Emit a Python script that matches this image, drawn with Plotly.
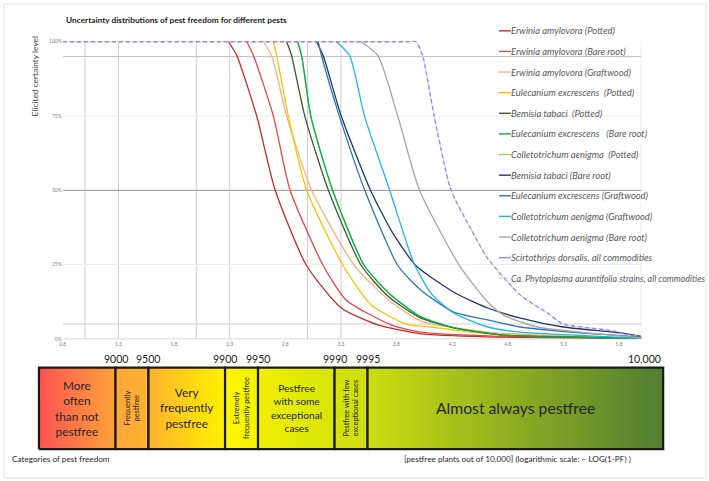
import plotly.graph_objects as go

W, H = 709, 481
FONT = "Lato"

# ---------------- data ----------------
x_tick_vals = [0.8, 1.3, 1.8, 2.3, 2.8, 3.3, 3.8, 4.3, 4.8, 5.3, 5.8]
x_tick_text = ["0.8", "1.3", "1.8", "2.3", "2.8", "3.3", "3.8", "4.3", "4.8", "5.3", "5.8"]
y_tick_vals = [0, 25, 50, 75, 100]
y_tick_text = ["0%", "25%", "50%", "75%", "100%"]

# vertical reference lines at category limits (-log10(1-PF))
category_limits = [1.0, 1.301, 2.0, 2.301, 3.0, 3.301]
# horizontal reference lines (certainty %)
h_levels = [95, 75, 50, 25, 5, 0]
h_colors = ["#BFBFBF", "#ECECEC", "#A6A6A6", "#ECECEC", "#D0D0D0", "#D9D9D9"]

series_names = [
    "Erwinia amylovora (Potted)",
    "Erwinia amylovora (Bare root)",
    "Erwinia amylovora (Graftwood)",
    "Eulecanium excrescens  (Potted)",
    "Bemisia tabaci  (Potted)",
    "Eulecanium excrescens   (Bare root)",
    "Colletotrichum aenigma  (Potted)",
    "Bemisia tabaci (Bare root)",
    "Eulecanium excrescens (Graftwood)",
    "Colletotrichum aenigma (Graftwood)",
    "Colletotrichum aenigma (Bare root)",
    "Scirtothrips dorsalis, all commodities",
    "Ca. Phytoplasma aurantifolia strains, all commodities",
]
series_colors = ["#C62828", "#E84545", "#F4B183", "#FFC000", "#3B5A2A", "#00B050",
                 "#92D050", "#1F3864", "#2E75B6", "#1FB4EC", "#A6A6A6", "#9F84E6", "#E2DAF6"]
series_dash = ["solid"] * 11 + ["4px,3px", "solid"]

ea_potted_x = [2.291, 2.365, 2.544, 2.708, 2.991, 3.304, 3.633, 4.02, 4.619, 6.0]
ea_potted_y = [100, 95.3, 74.9, 50.2, 24.7, 10.4, 4.7, 1.7, 0.7, 0.2]
ea_bare_x = [2.455, 2.515, 2.694, 2.842, 3.141, 3.349, 3.752, 4.02, 4.619, 6.0]
ea_bare_y = [100, 95.3, 74.9, 50.2, 24.7, 13.0, 4.7, 2.3, 1.0, 0.2]
ea_graft_x = [2.604, 2.678, 2.813, 3.036, 3.421, 3.75, 4.02, 4.619, 5.272, 6.0]
ea_graft_y = [100, 95.3, 74.9, 50.2, 24.7, 12.5, 6.0, 2.3, 1.0, 0.2]
ee_potted_x = [2.694, 2.723, 2.828, 2.991, 3.32, 3.573, 3.886, 4.109, 4.619, 6.0]
ee_potted_y = [100, 95.3, 74.9, 50.2, 24.7, 11.4, 5.0, 4.0, 1.7, 0.2]
bt_potted_x = [2.813, 2.857, 2.976, 3.186, 3.483, 3.734, 4.02, 4.315, 4.762, 5.362, 6.0]
bt_potted_y = [100, 95.3, 74.9, 50.2, 24.7, 14.0, 7.0, 3.7, 1.3, 0.7, 0.2]
ee_bare_x = [2.911, 2.947, 3.03, 3.224, 3.51, 3.752, 4.02, 4.315, 4.762, 6.0]
ee_bare_y = [100, 95.3, 74.9, 50.2, 24.7, 14.7, 7.4, 3.7, 1.3, 0.2]
ca_potted_x = [2.911, 2.947, 3.03, 3.224, 3.51, 3.752, 4.02, 4.315, 4.762, 6.0]
ca_potted_y = [100, 95.3, 74.9, 50.2, 24.7, 14.7, 7.4, 3.7, 1.3, 0.2]
bt_bare_x = [3.081, 3.141, 3.304, 3.564, 3.76, 3.973, 4.315, 4.619, 4.914, 5.299, 5.809, 6.0]
bt_bare_y = [100, 95.3, 74.9, 50.2, 36.0, 24.7, 15.7, 10.4, 7.0, 4.0, 2.0, 0.8]
ee_graft_x = [3.096, 3.126, 3.287, 3.513, 3.812, 4.02, 4.315, 4.619, 4.914, 5.362, 6.0]
ee_graft_y = [100, 95.3, 74.9, 50.2, 24.7, 16.4, 9.0, 6.4, 4.0, 2.3, 0.7]
ca_graft_x = [3.26, 3.379, 3.513, 3.737, 3.957, 4.109, 4.315, 4.619, 4.914, 6.0]
ca_graft_y = [100, 95.3, 74.9, 50.2, 25.4, 15.4, 8.7, 4.0, 2.3, 0.3]
ca_bare_x = [3.483, 3.633, 3.812, 4.005, 4.36, 4.619, 4.762, 5.067, 5.514, 6.0]
ca_bare_y = [100, 95.3, 74.9, 50.2, 25.0, 12.4, 8.0, 4.0, 2.0, 0.3]
sd_all_x = [0.8, 1.5, 2.2, 2.9, 3.5, 3.9, 3.975, 4.035, 4.139, 4.288, 4.467, 4.619, 4.914,
            5.156, 5.299, 5.693, 6.0]
sd_all_y = [100, 100, 100, 100, 100, 100, 100, 95.3, 74.9, 50.2, 37.1, 27.1, 14.7,
            8.7, 5.0, 3.0, 0.7]
ph_all_x = [0.8, 1.5, 2.2, 2.9, 3.5, 3.9, 3.975, 4.035, 4.139, 4.288, 4.467, 4.619, 4.914,
            5.156, 5.299, 5.693, 6.0]
ph_all_y = [100, 100, 100, 100, 100, 100, 100, 95.3, 74.9, 50.2, 37.1, 27.1, 14.7,
            8.7, 5.0, 3.0, 0.7]

series_x = [ea_potted_x, ea_bare_x, ea_graft_x, ee_potted_x, bt_potted_x, ee_bare_x,
            ca_potted_x, bt_bare_x, ee_graft_x, ca_graft_x, ca_bare_x, sd_all_x, ph_all_x]
series_y = [ea_potted_y, ea_bare_y, ea_graft_y, ee_potted_y, bt_potted_y, ee_bare_y,
            ca_potted_y, bt_bare_y, ee_graft_y, ca_graft_y, ca_bare_y, sd_all_y, ph_all_y]
draw_order = [6, 12, 0, 1, 2, 3, 4, 5, 7, 8, 9, 10, 11]

# category bar
bar_edges = [0.301, 1.0, 1.301, 2.0, 2.301, 3.0, 3.301, 6.0]
bar_edge_labels = ["9000", "9500", "9900", "9950", "9990", "9995", "10,000"]
bar_labels = ["More<br>often<br>than not<br>pestfree", "Frequently<br>pestfree",
              "Very<br>frequently<br>pestfree", "Extremely<br>frequently pestfree",
              "Pestfree<br>with some<br>exceptional<br>cases", "Pestfree with few<br>exceptional cases",
              "Almost always pestfree"]
bar_label_angle = [0, -90, 0, -90, 0, -90, 0]
bar_label_size = [11.8, 7.4, 11.8, 7.4, 10.2, 7.4, 15.7]
bar_colors = [("#FF5252", "#FFA33A"), ("#FFA53A", "#FFB22E"), ("#FFB22E", "#FFF200"),
              ("#FFF500", "#F2F200"), ("#F0F000", "#D6E40A"), ("#D4E20C", "#CEDF0E"),
              ("#CCDD10", "#507D32")]

# ---------------- figure ----------------
def pxx(p):
    return p / W

def pxy(p):
    return 1 - p / H

fig = go.Figure()

for i in draw_order:
    fig.add_trace(go.Scatter(
        x=series_x[i], y=series_y[i], mode="lines", name=series_names[i],
        line=dict(color=series_colors[i], width=1.3,
                  dash=series_dash[i], shape="spline", smoothing=0.6),
        showlegend=False, xaxis="x", yaxis="y", hoverinfo="skip"))

for k in range(len(bar_labels)):
    x0, x1 = bar_edges[k], bar_edges[k + 1]
    c0, c1 = bar_colors[k]
    fig.add_trace(go.Scatter(
        x=[x0, x1, x1, x0, x0], y=[0, 0, 1, 1, 0], mode="lines", fill="toself",
        fillgradient=dict(type="horizontal", colorscale=[[0, c0], [1, c1]]),
        line=dict(color="#1A1A1A", width=2.2), showlegend=False,
        xaxis="x2", yaxis="y2", hoverinfo="skip"))

shapes = []
for v in category_limits:
    shapes.append(dict(type="line", xref="x", yref="y", x0=v, x1=v, y0=0, y1=100,
                       line=dict(color="#CFCFCF", width=1), layer="below"))
for lv, col in zip(h_levels, h_colors):
    shapes.append(dict(type="line", xref="x", yref="y", x0=0.8, x1=6.0, y0=lv, y1=lv,
                       line=dict(color=col, width=1.2 if lv == 50 else 1), layer="below"))
shapes.append(dict(type="line", xref="x", yref="y", x0=6.0, x1=6.0, y0=0, y1=100,
                   line=dict(color="#D9D9D9", width=1), layer="below"))
shapes.append(dict(type="rect", xref="paper", yref="paper", x0=pxx(1), x1=pxx(706),
                   y0=pxy(479), y1=pxy(2), line=dict(color="#E3E3E3", width=1)))

annotations = []
# title
annotations.append(dict(xref="paper", yref="paper", x=pxx(61), y=pxy(18), xanchor="left",
                        yanchor="middle", showarrow=False,
                        text="<b>Uncertainty distributions of pest freedom for different pests</b>",
                        font=dict(family=FONT, size=8.3, color="#1A1A1A")))
# y title
annotations.append(dict(xref="paper", yref="paper", x=pxx(32), y=pxy(75), xanchor="center",
                        yanchor="middle", showarrow=False, textangle=-90,
                        text="Elicited certainty level",
                        font=dict(family=FONT, size=8.4, color="#404040")))
# legend (manual)
leg_y0, leg_step = 29, 20.75
for j, name in enumerate(series_names):
    yy = pxy(leg_y0 + j * leg_step)
    shapes.append(dict(type="line", xref="paper", yref="paper", x0=pxx(498), x1=pxx(510),
                       y0=yy, y1=yy,
                       line=dict(color=series_colors[j] if j != 12 else "#D0D0D8", width=1.4,
                                 dash="solid" if j != 12 else "3px,3px")))
    annotations.append(dict(xref="paper", yref="paper", x=pxx(508.5), y=yy, xanchor="left",
                            yanchor="middle", showarrow=False, text="<i>" + name + "</i>",
                            font=dict(family=FONT, size=9.4 if j != 12 else 8.9,
                                      color="#595959")))
# bar edge labels
for k, lab in enumerate(bar_edge_labels):
    last = k == len(bar_edge_labels) - 1
    annotations.append(dict(xref="x2", yref="paper", x=bar_edges[k + 1], y=pxy(359),
                            xanchor="right" if last else "center", yanchor="middle",
                            showarrow=False, text=lab,
                            font=dict(family=FONT, size=10.5, color="#1A1A1A")))
# bar inner labels
for k, lab in enumerate(bar_labels):
    annotations.append(dict(xref="x2", yref="y2", x=(bar_edges[k] + bar_edges[k + 1]) / 2,
                            y=0.5, xanchor="center", yanchor="middle", showarrow=False,
                            text=lab, textangle=bar_label_angle[k],
                            font=dict(family=FONT, size=bar_label_size[k], color="#262626")))
annotations.append(dict(xref="paper", yref="paper", x=pxx(7), y=pxy(460), xanchor="left",
                        yanchor="middle", showarrow=False, text="Categories of pest freedom",
                        font=dict(family=FONT, size=8.2, color="#262626")))
annotations.append(dict(xref="paper", yref="paper", x=pxx(517), y=pxy(460), xanchor="center",
                        yanchor="middle", showarrow=False,
                        text="[pestfree plants out of 10,000] (logarithmic scale: \u2013 LOG(1-PF) )",
                        font=dict(family=FONT, size=8.2, color="#262626")))

x2_a = 1 - 113 / 110
x2_b = x2_a + W / 110

fig.update_layout(
    width=W, height=H, autosize=False,
    margin=dict(l=0, r=0, t=0, b=0, pad=0),
    paper_bgcolor="white", plot_bgcolor="rgba(0,0,0,0)",
    showlegend=False,
    xaxis=dict(domain=[pxx(60), pxx(641)], range=[0.8, 6.0], showgrid=False, zeroline=False,
               showline=False, tickmode="array", tickvals=x_tick_vals, ticktext=x_tick_text,
               tickfont=dict(family=FONT, size=5, color="#808080"), ticks="", anchor="y"),
    yaxis=dict(domain=[pxy(340.5), pxy(38.5)], range=[-0.5, 100.5], showgrid=False,
               zeroline=False, showline=False, tickmode="array", tickvals=y_tick_vals,
               ticktext=y_tick_text, tickfont=dict(family=FONT, size=5, color="#808080"),
               ticks="", anchor="x"),
    xaxis2=dict(domain=[0, 1], range=[x2_a, x2_b], visible=False, anchor="y2"),
    yaxis2=dict(domain=[pxy(454.1), pxy(363.9)], range=[-0.05, 1.05], visible=False,
                anchor="x2"),
    shapes=shapes, annotations=annotations,
)

fig.write_html("out.html")
